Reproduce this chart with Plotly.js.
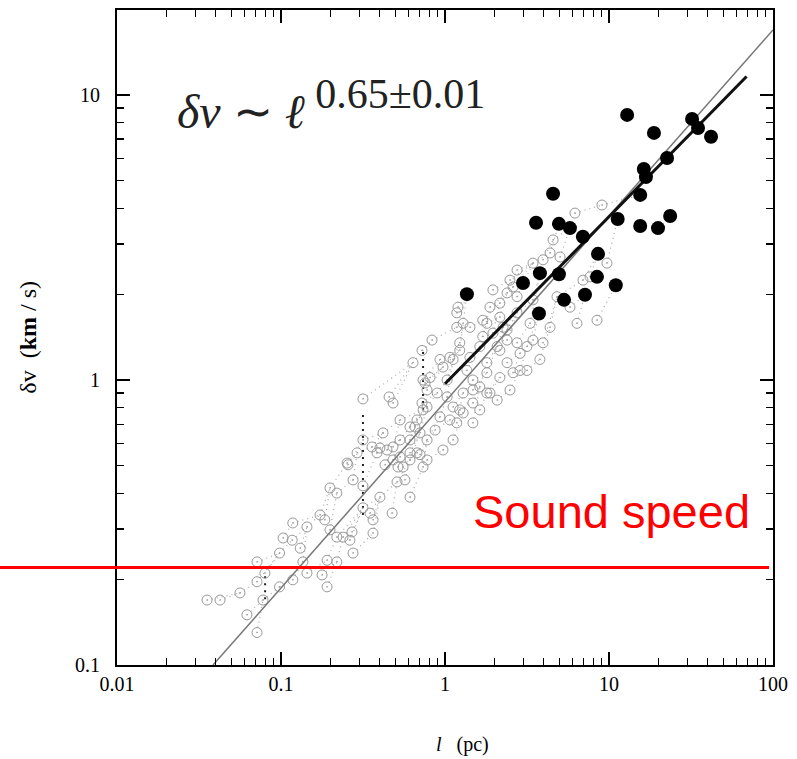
<!DOCTYPE html>
<html><head><meta charset="utf-8">
<script src="https://cdn.plot.ly/plotly-3.0.1.min.js"></script>
<style>html,body{margin:0;padding:0;background:#fff}</style>
</head><body><div id="chart" style="width:797px;height:759px"></div>
<script>
// Open circles (l in pc, dv in km/s)
const openX=[0.316,0.456,0.482,0.755,0.724,0.735,0.656,0.419,0.316,0.359,0.401,0.256,0.482,0.532,0.612,0.704,0.777,0.517,0.510,0.612,
0.401,0.316,0.199,0.219,0.316,0.349,0.364,0.364,0.476,0.173,0.185,0.118,0.144,0.103,0.117,0.199,0.219,0.239,0.271,0.263,
0.275,0.191,0.219,0.098,0.131,0.136,0.144,0.0714,0.0798,0.0714,0.118,0.098,0.178,0.191,0.0562,0.0425,0.0354,0.0777,0.062,0.0714,
1.20,1.18,1.29,0.833,0.724,0.638,0.735,0.81,0.777,0.972,1.12,1.23,1.36,1.48,1.63,1.80,2.08,2.39,1.80,2.16,
2.39,2.75,2.39,2.60,3.44,3.16,3.44,3.96,3.16,3.79,2.87,2.16,2.60,1.80,1.48,1.29,1.03,1.12,0.932,0.777,
0.675,0.612,1.18,1.48,0.704,0.612,0.777,0.532,0.482,0.385,0.443,0.675,0.612,0.735,0.555,0.972,1.12,0.253,2.39,2.16,
1.80,1.48,1.23,1.07,1.88,2.75,1.63,1.23,1.07,9.06,6.20,4.56,4.37,5.03,3.96,3.44,2.75,2.49,2.16,1.88,
1.70,1.42,1.18,2.26,4.37,5.78,6.94,7.66,9.72,8.45,6.38,4.82,1.96,1.70,1.03,1.29,2.08,2.49,1.63,0.896,
0.932,1.42,2.87,1.96,3.30,2.75,0.532,0.431,0.275,0.291,0.570,0.87];
const openY=[0.858,0.872,0.83,0.976,0.83,0.785,0.684,0.652,0.616,0.582,0.577,0.504,0.524,0.537,0.555,0.547,0.524,0.495,0.439,0.388,
0.388,0.425,0.418,0.401,0.356,0.341,0.323,0.290,0.341,0.336,0.323,0.315,0.305,0.279,0.274,0.298,0.281,0.281,0.293,0.274,
0.247,0.233,0.230,0.247,0.257,0.230,0.210,0.230,0.210,0.196,0.199,0.188,0.207,0.188,0.179,0.169,0.169,0.169,0.150,0.130,
1.80,1.53,1.58,1.38,1.27,1.15,1.0,1.02,0.922,1.11,1.18,1.27,1.08,1.0,0.945,1.15,1.31,1.38,1.58,1.66,
1.50,1.72,2.02,2.12,1.91,1.31,1.38,1.35,1.08,1.18,1.08,1.02,1.06,0.90,0.83,0.766,0.872,0.804,0.742,0.804,
0.724,0.684,0.707,0.707,0.652,0.616,0.616,0.616,0.582,0.555,0.568,0.555,0.524,0.495,0.495,0.568,0.616,0.511,1.15,1.27,
1.06,0.922,0.785,0.724,0.90,1.35,1.31,1.35,1.20,4.11,3.85,3.10,2.79,2.70,2.64,2.57,2.43,2.24,1.86,1.80,
1.62,1.53,1.72,1.53,1.53,1.80,2.24,2.30,2.57,1.62,1.58,1.96,2.07,1.42,1.0,0.90,0.85,0.922,0.785,0.90,
1.18,1.20,1.24,1.46,1.58,1.96,0.724,0.504,0.446,0.555,0.446,0.667];
// Filled circles
const filledX=[12.9,18.8,32.1,34.9,41.9,22.6,16.3,16.8,15.5,4.56,11.3,23.6,3.59,4.95,5.78,15.5,19.9,6.93,8.57,3.79,2.99,4.95,8.45,11.0,7.14,5.32,1.36,3.74];
const filledY=[8.51,7.36,8.24,7.66,7.13,6.01,5.50,5.15,4.46,4.50,3.67,3.76,3.56,3.53,3.41,3.47,3.41,3.18,2.77,2.37,2.19,2.35,2.30,2.15,1.99,1.91,2.00,1.71];
// Fit lines
const grayFitX=[0.0385,100], grayFitY=[0.1,16.9];
const blackFitX=[1.0,69], blackFitY=[0.97,11.6];
// Vertical dark dotted bars
const barX=[0.735,0.316,0.08], barLo=[0.785,0.336,0.17], barHi=[1.27,0.754,0.21];
const soundSpeed=0.22;
const xTickVals=[0.01,0.1,1,10,100], xTickText=['0.01','0.1','1','10','100'];
const yTickVals=[0.1,1,10], yTickText=['0.1','1','10'];

function minorVals(lo,hi){const v=[];for(let d=lo;d<hi;d++){for(let k=2;k<=9;k++)v.push(k*Math.pow(10,d));}return v;}

// dotted links: each open circle to nearest point up-right of it
const allX=openX.concat(filledX), allY=openY.concat(filledY);
const linkX=[],linkY=[];
for(let i=0;i<openX.length;i++){
  const lx=Math.log10(openX[i]), ly=Math.log10(openY[i]);
  let best=-1,bd=1e9;
  for(let j=0;j<allX.length;j++){
    if(j===i)continue;
    const dx=Math.log10(allX[j])-lx, dy=Math.log10(allY[j])-ly;
    if(dx<=0.02||dy<=0.02)continue;
    const d=Math.hypot(dx,dy);
    if(d>0.07&&d<bd){bd=d;best=j;}
  }
  if(best>=0&&bd<0.5){linkX.push(openX[i],allX[best],null);linkY.push(openY[i],allY[best],null);}
}
const bx=[],by=[];
for(let i=0;i<barX.length;i++){bx.push(barX[i],barX[i],null);by.push(barLo[i],barHi[i],null);}

const traces=[
 {x:linkX,y:linkY,mode:'lines',line:{color:'#a8a8a8',width:1.2,dash:'1px,4px'},hoverinfo:'skip'},
 {x:bx,y:by,mode:'lines',line:{color:'#222',width:2,dash:'2px,5px'},hoverinfo:'skip'},
 {x:openX,y:openY,mode:'markers',marker:{symbol:'circle-open-dot',size:10,color:'#999',line:{width:1,color:'#999'}}},
 {x:grayFitX,y:grayFitY,mode:'lines',line:{color:'#777',width:1.5}},
 {x:blackFitX,y:blackFitY,mode:'lines',line:{color:'#111',width:3}},
 {x:filledX,y:filledY,mode:'markers',marker:{symbol:'circle',size:14,color:'#000'}}
];
const tf={family:'Liberation Serif, serif',size:20,color:'#000'};
const common={type:'log',showgrid:false,zeroline:false,showline:true,linecolor:'#000',linewidth:2,mirror:'ticks',
 ticks:'inside',ticklen:13,tickwidth:1.5,tickcolor:'#000',tickfont:tf,tickmode:'array'};
const layout={
 width:797,height:759,showlegend:false,paper_bgcolor:'#fff',plot_bgcolor:'#fff',
 margin:{l:117,r:24,t:10,b:94},
 xaxis:Object.assign({},common,{range:[-2,2],tickvals:xTickVals,ticktext:xTickText,
   minor:{tickvals:minorVals(-2,2),ticks:'inside',ticklen:7,tickwidth:1.2,tickcolor:'#000'}}),
 yaxis:Object.assign({},common,{range:[-1,1.298],tickvals:yTickVals,ticktext:yTickText,ticklabelstandoff:11,
   minor:{tickvals:minorVals(-1,2),ticks:'inside',ticklen:7,tickwidth:1.2,tickcolor:'#000'}}),
 shapes:[{type:'line',xref:'paper',yref:'y',x0:-0.179,x1:0.994,y0:soundSpeed,y1:soundSpeed,line:{color:'#ff0000',width:3}}],
 annotations:[
  {xref:'paper',yref:'paper',x:0.088,y:0.855,xanchor:'left',yanchor:'middle',showarrow:false,
   text:'<i>δv</i> ∼ <i>ℓ</i><sup><span style="font-size:42px"> 0.65±0.01</span></sup>',font:{family:'Liberation Serif, serif',size:48,color:'#222'}},
  {xref:'paper',yref:'paper',x:0.968,y:0.2336,xanchor:'right',yanchor:'middle',showarrow:false,
   text:'Sound speed',font:{family:'Liberation Sans, Arial, sans-serif',size:47,color:'#ff0000'}},
  {xref:'paper',yref:'paper',x:0.527,y:-0.122,xanchor:'center',yanchor:'middle',showarrow:false,
   text:'<i>l</i>   (pc)',font:{family:'Liberation Serif, serif',size:20,color:'#000'}},
  {xref:'paper',yref:'paper',x:-0.137,y:0.5,xanchor:'center',yanchor:'middle',showarrow:false,textangle:-90,
   text:'δv  (<b>km</b> / s)',font:{family:'Liberation Serif, serif',size:24,color:'#000'}}
 ]
};
Plotly.newPlot('chart',traces,layout,{staticPlot:true,displayModeBar:false});
</script></body></html>
